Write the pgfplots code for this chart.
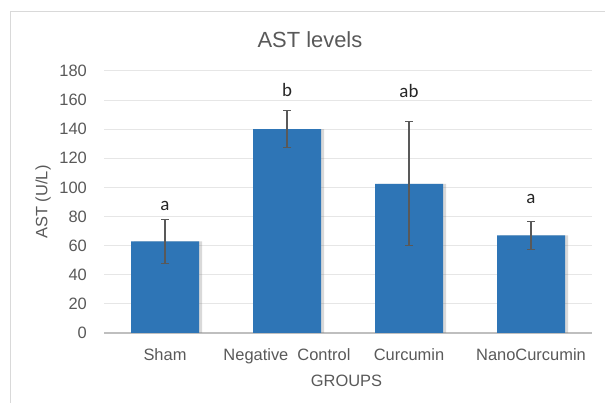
\documentclass[border=0pt]{standalone}
\usepackage{pgfplots}
\pgfplotsset{compat=1.18}
\usepackage{fontspec}
\setmainfont{Liberation Sans}
\newfontfamily\calibri{Carlito}

\definecolor{barblue}{HTML}{2E75B6}
\definecolor{txtgray}{HTML}{595959}
\definecolor{gridgray}{HTML}{E6E6E6}
\definecolor{axisgray}{HTML}{BFBFBF}
\definecolor{framegray}{HTML}{D9D9D9}

% group, mean, sd
\pgfplotstableread{
x y err
0 63 15
1 140 12.6
2 102.5 42.5
3 67 9.5
}\ast

% significance letters (baseline heights)
\pgfplotstableread{
x y lab
0 84 a
1 162.3 b
2 161.5 ab
3 89 a
}\letters

\begin{document}
\begin{tikzpicture}
\useasboundingbox (0,0) rectangle (605bp,403bp);
\draw[framegray, line width=1.5bp] (10.5bp,0) -- (10.5bp,391.3bp) -- (605bp,391.3bp);
\begin{axis}[
    at={(104bp,70bp)}, anchor=south west,
    scale only axis, width=488bp, height=262bp,
    xmin=-0.5, xmax=3.5, ymin=0, ymax=180,
    ytick={0,20,...,180},
    xtick={0,1,2,3},
    xticklabels={Sham, Negative\ \ Control, Curcumin, NanoCurcumin},
    axis lines*=left,
    y axis line style={draw=none},
    x axis line style={axisgray, line width=1.3bp, -},
    major tick length=0pt,
    ymajorgrids, grid style={gridgray, line width=1bp},
    /pgf/number format/assume math mode=true,
    ticklabel style={font=\fontsize{16.5}{19}\selectfont, text=txtgray, inner sep=0pt},
    yticklabel style={anchor=east, xshift=-17bp},
    xticklabel style={anchor=north, yshift=-15bp},
    title={AST levels},
    title style={at={(axis description cs:0.422,1.095)}, anchor=center,
        font=\fontsize{22}{26}\selectfont, text=txtgray},
    xlabel={GROUPS},
    xlabel style={at={(axis description cs:0.497,0)}, anchor=north, yshift=-42bp,
        inner sep=0pt, font=\fontsize{16.5}{19}\selectfont, text=txtgray},
    ylabel={AST (U/L)},
    ylabel style={at={(axis description cs:-0.125,0.5)}, anchor=center,
        inner sep=0pt, font=\fontsize{16.5}{19}\selectfont, text=txtgray},
    clip=false,
]
% soft shadow behind bars
\addplot[ybar, bar width=68bp, bar shift=3bp, draw=none, fill=gray, fill opacity=0.3]
    table[x=x, y=y] {\ast};
\addplot[ybar, bar width=68bp, bar shift=0pt, draw=none, fill=barblue,
    error bars/.cd, y dir=both, y explicit,
    error bar style={txtgray, line width=1.1bp},
    error mark options={rotate=90, mark size=4bp, txtgray, line width=1.1bp}]
    table[x=x, y=y, y error=err] {\ast};
\addplot[draw=none, mark=none, nodes near coords, point meta=explicit symbolic,
    every node near coord/.style={anchor=base, inner sep=0pt,
        font=\calibri\fontsize{19}{22}\selectfont, text=black!85}]
    table[x=x, y=y, meta=lab] {\letters};
\end{axis}
\end{tikzpicture}
\end{document}
